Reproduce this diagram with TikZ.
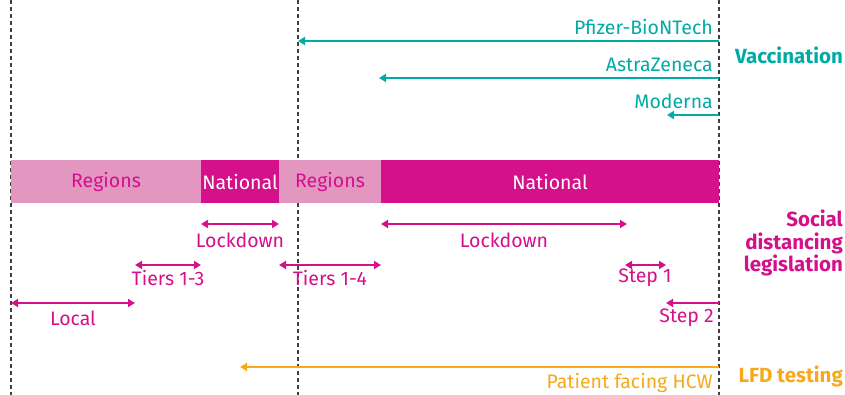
\documentclass[tikz,border=0pt]{standalone}
\usepackage{fontspec}
\setmainfont{Fira Sans}
\usetikzlibrary{arrows.meta}
\definecolor{vacc}{RGB}{0,170,165}
\definecolor{sdl}{RGB}{212,16,138}
\definecolor{sdllight}{RGB}{226,150,192}
\definecolor{lfd}{RGB}{247,168,27}
\tikzset{
  guide/.style={draw=black!75, dash pattern=on 4pt off 3pt, line width=1.1pt},
  oneway/.style={-{Triangle[length=7pt,width=8pt]}, line width=1.8pt},
  twoway/.style={{Triangle[length=7pt,width=8pt]}-{Triangle[length=7pt,width=8pt]}, line width=1.8pt},
  lab/.style={inner sep=0pt, font=\fontsize{19.5}{23}\selectfont},
  head/.style={inner sep=0pt, font=\fontsize{20.5}{22.5}\selectfont\bfseries, align=right}
}
\begin{document}
\begin{tikzpicture}[x=1pt,y=-1pt]
\useasboundingbox (0,0) rectangle (845,395);
% guides
\draw[guide] (11,0) -- (11,395);
\draw[guide] (298,0) -- (298,395);
\draw[guide] (719,0) -- (719,395);

% vaccination
\coordinate (pfE) at (719,41);  \coordinate (pfS) at (298,41);
\coordinate (azE) at (719,78);  \coordinate (azS) at (379,78);
\coordinate (moE) at (719,115); \coordinate (moS) at (667,115);
\draw[oneway, vacc] (pfE) -- (pfS);
\draw[oneway, vacc] (azE) -- (azS);
\draw[oneway, vacc] (moE) -- (moS);
\node[lab, vacc, anchor=base east] (pfizer) at (713,35) {Pfizer-BioNTech};
\node[lab, vacc, anchor=base east] (astra) at (713,72) {AstraZeneca};
\node[lab, vacc, anchor=base east] (moderna) at (713,109) {Moderna};
\node[head, vacc, anchor=east] (vaccination) at (843,55) {Vaccination};

% legislation bar
\fill[sdllight] (11,160) rectangle (201,203);
\fill[sdl] (201,160) rectangle (279,203);
\fill[sdllight] (279,160) rectangle (381,203);
\fill[sdl] (381,160) rectangle (719,203);
\node[lab, sdl] (regA) at (106,182) {Regions};
\node[lab, white] (natA) at (240,182) {National};
\node[lab, sdl] (regB) at (330,182) {Regions};
\node[lab, white] (natB) at (550,182) {National};

% measures
\coordinate (lkA1) at (201,224); \coordinate (lkA2) at (279,224);
\coordinate (lkB1) at (381,224); \coordinate (lkB2) at (627,224);
\coordinate (tiA1) at (135,265); \coordinate (tiA2) at (201,265);
\coordinate (tiB1) at (279,265); \coordinate (tiB2) at (381,265);
\coordinate (st1a) at (625,265); \coordinate (st1b) at (666,265);
\coordinate (loc1) at (11,303);  \coordinate (loc2) at (135,303);
\coordinate (st2a) at (719,303); \coordinate (st2b) at (666,303);
\draw[twoway, sdl] (lkA1) -- (lkA2);
\draw[twoway, sdl] (lkB1) -- (lkB2);
\draw[twoway, sdl] (tiA1) -- (tiA2);
\draw[twoway, sdl] (tiB1) -- (tiB2);
\draw[twoway, sdl] (st1a) -- (st1b);
\draw[twoway, sdl] (loc1) -- (loc2);
\draw[oneway, sdl] (st2a) -- (st2b);
\node[lab, sdl] (lockA) at (240,240) {Lockdown};
\node[lab, sdl] (lockB) at (504,240) {Lockdown};
\node[lab, sdl] (tiersA) at (168,278) {Tiers 1-3};
\node[lab, sdl] (tiersB) at (330,278) {Tiers 1-4};
\node[lab, sdl] (stepA) at (645,278) {Step 1};
\node[lab, sdl, anchor=east] (stepB) at (714,318) {Step 2};
\node[lab, sdl] (local) at (73,318) {Local};
\node[head, sdl, anchor=east] (social) at (843,243) {Social\\distancing\\legislation};

% testing
\coordinate (lfE) at (719,367); \coordinate (lfS) at (240,367);
\draw[oneway, lfd] (lfE) -- (lfS);
\node[lab, lfd, anchor=east] (hcw) at (713,383) {Patient facing HCW};
\node[head, lfd, anchor=east] (lfdtest) at (843,376) {LFD testing};
\end{tikzpicture}
\end{document}
